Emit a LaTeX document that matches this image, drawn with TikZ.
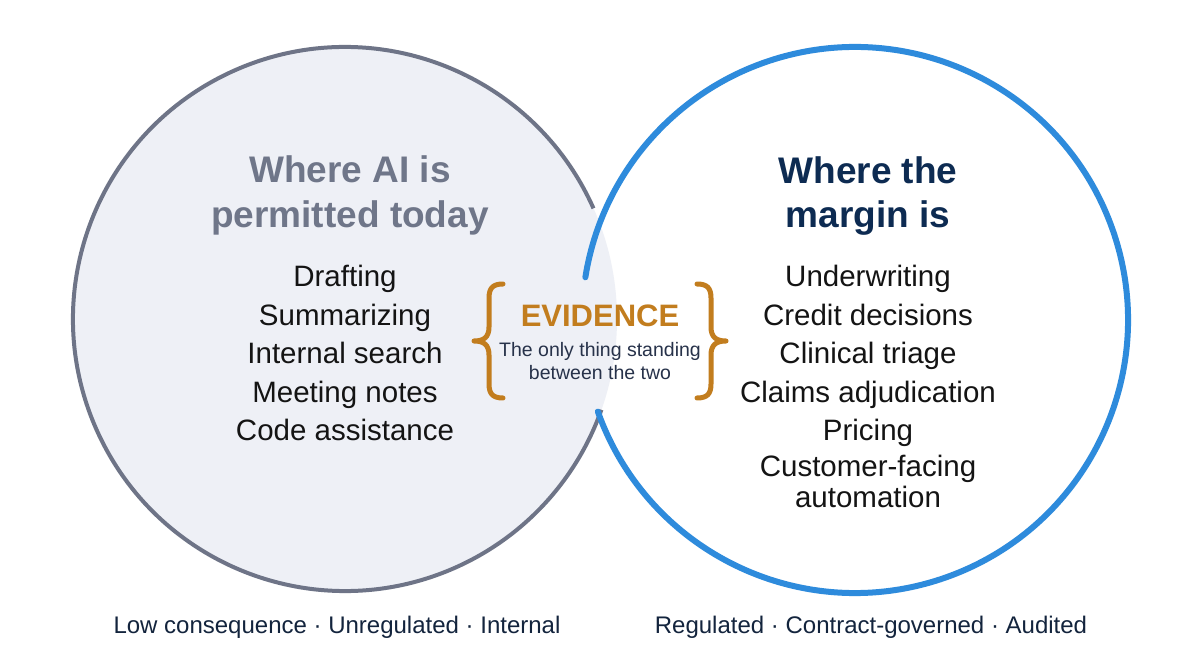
\documentclass[tikz,border=0pt]{standalone}
\usepackage{fontspec}
\setmainfont{Liberation Sans}
\usepackage{xcolor}
\usepackage{tikz}
\usetikzlibrary{positioning}

\definecolor{leftfill}{HTML}{EEF0F6}
\definecolor{leftline}{HTML}{6E7487}
\definecolor{lefttitle}{HTML}{6F7689}
\definecolor{rightline}{HTML}{2E8BDC}
\definecolor{righttitle}{HTML}{0D2B52}
\definecolor{evorange}{HTML}{C27D1E}
\definecolor{subtext}{HTML}{27324A}
\definecolor{itemtext}{HTML}{141414}
\definecolor{captext}{HTML}{13243D}

\begin{document}
\begin{tikzpicture}[
    x=1pt, y=1pt,
    heading/.style={
        anchor=base,
        inner sep=0pt,
        font=\fontsize{37}{44}\selectfont\bfseries
    },
    item/.style={
        anchor=base,
        inner sep=0pt,
        text=itemtext,
        font=\fontsize{29.5}{34}\selectfont
    },
    caption/.style={
        anchor=base,
        inner sep=0pt,
        text=captext,
        font=\fontsize{24}{28}\selectfont
    },
    brace/.style={
        draw=evorange,
        line width=5pt,
        line cap=round,
        line join=round
    }
]

\useasboundingbox[fill=white] (0,0) rectangle (1200,670);

% Circle centres
\coordinate (lc) at (345,351);
\coordinate (rc) at (855,350);

% Left circle: fill, then outline stopping where the right one crosses it
\fill[leftfill] (lc) circle[radius=272];
\draw[leftline, line width=4pt]
    (lc) ++(24:272) arc[start angle=24, end angle=340.5, radius=272];

% Right circle, open where the two meet
\draw[rightline, line width=6pt, line cap=round]
    (rc) ++(-160.4:273) arc[start angle=-160.4, end angle=171, radius=273];

% Left titles and items
\node[heading, text=lefttitle] (permitted1) at (350,487) {Where AI is};
\node[heading, text=lefttitle] (permitted2) at (350,442) {permitted today};

\foreach \t [count=\i from 0] in {Drafting,Summarizing,Internal search,Meeting notes,Code assistance}
    \node[item] (allowed\i) at (345,383-38.5*\i) {\t};

% Right titles and items
\node[heading, text=righttitle] (margin1) at (868,486) {Where the};
\node[heading, text=righttitle] (margin2) at (868,442) {margin is};

\foreach \t [count=\i from 0] in {Underwriting,Credit decisions,Clinical triage,Claims adjudication,Pricing}
    \node[item] (regulated\i) at (868,383-38.5*\i) {\t};
\node[item] (customer) at (868,193) {Customer-facing};
\node[item] (automation) at (868,162) {automation};

% Evidence in the overlap
\node[anchor=base, inner sep=0pt, text=evorange,
      font=\fontsize{31}{36}\selectfont\bfseries] (evidence) at (600,343) {EVIDENCE};
\node[anchor=base, inner sep=0pt, text=subtext,
      font=\fontsize{19.5}{23}\selectfont] (only) at (600,313) {The only thing standing};
\node[anchor=base, inner sep=0pt, text=subtext,
      font=\fontsize{19.5}{23}\selectfont] (between) at (600,290) {between the two};

% Braces
\draw[brace] (503,386) .. controls (493,386) and (489,382) .. (489,372)
    -- (489,343) .. controls (489,333) and (484,329) .. (474,329)
    .. controls (484,329) and (489,325) .. (489,315)
    -- (489,286) .. controls (489,276) and (493,272) .. (503,272);
\draw[brace] (697,386) .. controls (707,386) and (711,382) .. (711,372)
    -- (711,343) .. controls (711,333) and (716,329) .. (726,329)
    .. controls (716,329) and (711,325) .. (711,315)
    -- (711,286) .. controls (711,276) and (707,272) .. (697,272);

% Captions
\node[caption] (lowcap) at (337,37) {Low consequence · Unregulated · Internal};
\node[caption] (highcap) at (871,37) {Regulated · Contract-governed · Audited};

\end{tikzpicture}
\end{document}
